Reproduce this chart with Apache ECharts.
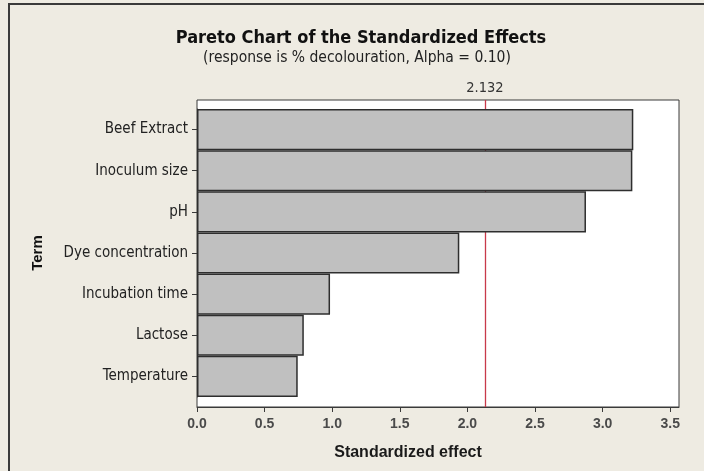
<!DOCTYPE html>
<html>
<head>
<meta charset="utf-8">
<script src="https://cdn.jsdelivr.net/npm/echarts@6/dist/echarts.min.js"></script>
<style>
  html, body { margin: 0; padding: 0; background: #eeebe2; }
  #chart { width: 704px; height: 471px; }
</style>
</head>
<body>
<div id="chart"></div>
<script>
// Terms, ordered from largest to smallest standardized effect
const terms = ['Beef Extract', 'Inoculum size', 'pH', 'Dye concentration', 'Incubation time', 'Lactose', 'Temperature'];
const effects = [3.227, 3.22, 2.877, 1.94, 0.984, 0.79, 0.745];
// Critical t value for Alpha = 0.10
const criticalValue = 2.132;
const xTicks = [0, 0.5, 1.0, 1.5, 2.0, 2.5, 3.0, 3.5];
const xMax = 3.565;

const labelFont = "'DejaVu Sans Condensed', 'Liberation Sans', sans-serif";
const boldFont = "'Liberation Sans', Arial, sans-serif";

const chart = echarts.init(document.getElementById('chart'), null, { renderer: 'canvas' });

chart.setOption({
  backgroundColor: '#eeebe2',
  animation: false,
  graphic: [
    { type: 'rect', shape: { x: 9, y: 4, width: 720, height: 490 }, style: { fill: 'none', stroke: '#3a3a3a', lineWidth: 2 }, silent: true },
    { type: 'text', x: 361, y: 38, style: { text: 'Pareto Chart of the Standardized Effects', fontFamily: labelFont, fontWeight: 'bold', fontSize: 18, fill: '#111', textAlign: 'center', textVerticalAlign: 'middle' } },
    { type: 'text', x: 357, y: 58, style: { text: '(response is % decolouration, Alpha = 0.10)', fontFamily: labelFont, fontSize: 15.5, fill: '#222', textAlign: 'center', textVerticalAlign: 'middle' } }
  ],
  grid: [
    // outer plot frame
    { left: 197, top: 100, width: 482, height: 307, show: true, backgroundColor: '#ffffff', borderColor: '#3a3a3a', borderWidth: 1, containLabel: false },
    // bar region, inset from the frame
    { left: 197, top: 109, width: 482, height: 288, containLabel: false }
  ],
  xAxis: [
    {
      gridIndex: 0, type: 'value', min: 0, max: xMax,
      splitLine: { show: false },
      axisLine: { show: true, lineStyle: { color: '#3a3a3a', width: 1 } },
      axisTick: { show: true, length: 5, customValues: xTicks, lineStyle: { color: '#3a3a3a' } },
      axisLabel: { customValues: xTicks, margin: 10, fontFamily: boldFont, fontWeight: 'bold', fontSize: 14, color: '#4a4a4a', formatter: v => v.toFixed(1) },
      name: 'Standardized effect', nameLocation: 'middle', nameGap: 38,
      nameTextStyle: { fontFamily: boldFont, fontWeight: 'bold', fontSize: 16, color: '#1a1a1a', padding: [0, 60, 0, 0] }
    },
    { gridIndex: 1, type: 'value', min: 0, max: xMax, show: false, splitLine: { show: false } }
  ],
  yAxis: [
    { gridIndex: 0, type: 'value', min: 0, max: 1, show: false, splitLine: { show: false } },
    {
      gridIndex: 1, type: 'category', data: terms, inverse: true,
      axisLine: { show: true, lineStyle: { color: '#3a3a3a' } },
      axisTick: { show: true, alignWithLabel: true, length: 5, lineStyle: { color: '#3a3a3a' } },
      axisLabel: { margin: 9, fontFamily: labelFont, fontSize: 15, color: '#222' },
      splitLine: { show: false },
      name: 'Term', nameLocation: 'middle', nameGap: 152,
      nameTextStyle: { fontFamily: boldFont, fontWeight: 'bold', fontSize: 15, color: '#111' }
    }
  ],
  series: [
    {
      // reference line at the critical value, kept behind the bars
      type: 'line', xAxisIndex: 0, yAxisIndex: 0, data: [], z: 0,
      markLine: {
        silent: true, symbol: 'none', z: 0,
        lineStyle: { color: '#c8394a', width: 1.3, type: 'solid', opacity: 1 },
        emphasis: { disabled: true },
        label: { show: true, position: 'end', distance: 4, formatter: String(criticalValue), fontFamily: labelFont, fontSize: 14.5, color: '#333' },
        data: [{ xAxis: criticalValue }]
      }
    },
    {
      type: 'bar', xAxisIndex: 1, yAxisIndex: 1, data: effects, z: 10,
      barCategoryGap: 0,
      itemStyle: { color: '#c0c0c0', borderColor: '#2e2e2e', borderWidth: 1.5 }
    }
  ]
});
</script>
</body>
</html>
